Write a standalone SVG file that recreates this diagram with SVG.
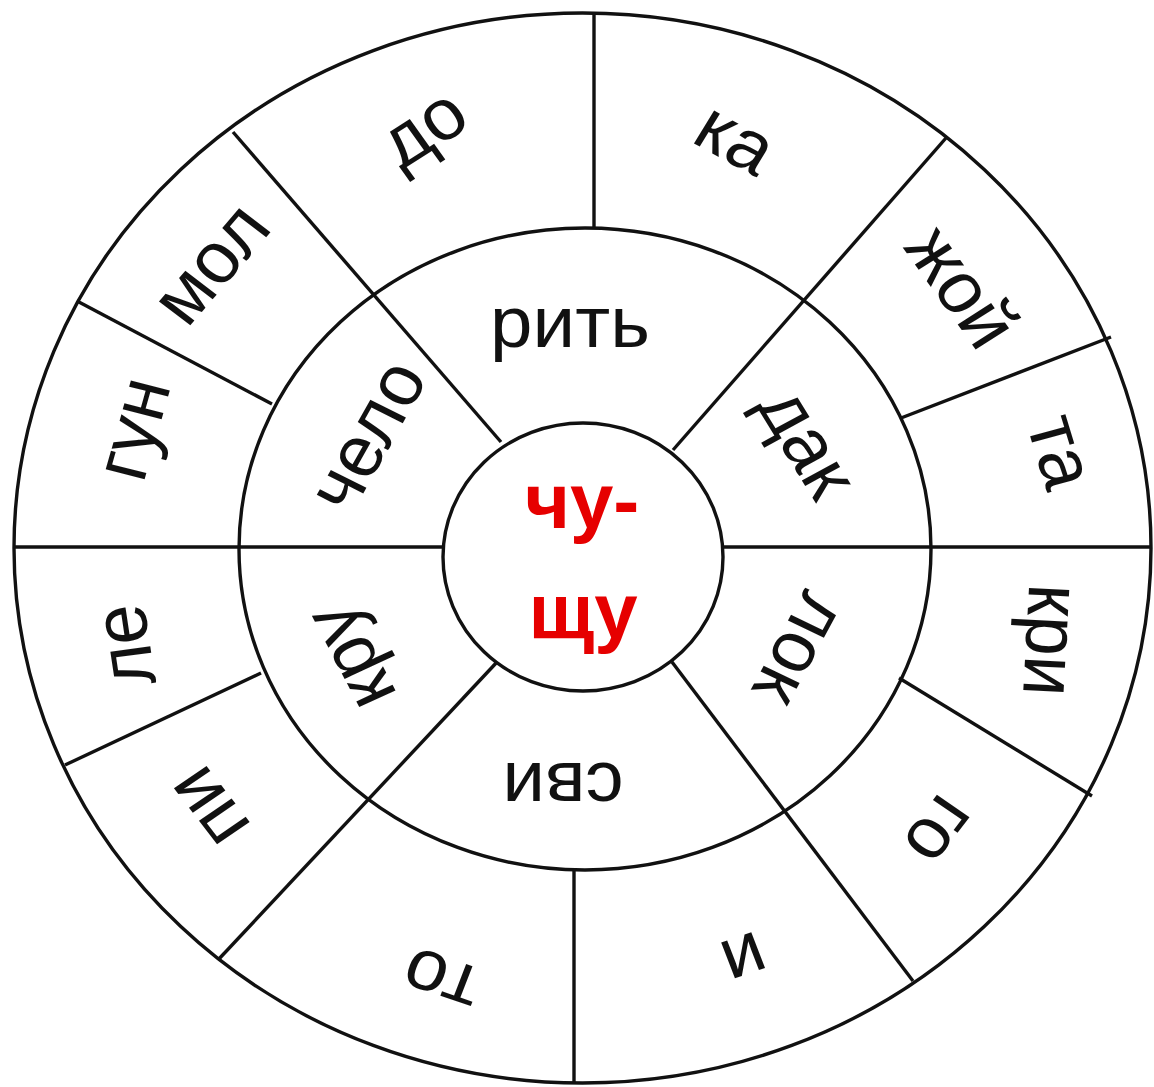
<svg xmlns="http://www.w3.org/2000/svg" width="1154" height="1087" viewBox="0 0 1154 1087">
<style>
.ring{fill:none;stroke:#111;stroke-width:3.4}
.div{stroke:#111;stroke-width:3.4;stroke-linecap:butt}
.lbl{font-family:"Liberation Sans",Arial,sans-serif;font-size:72px;fill:#111;text-anchor:middle}
.ctr{font-family:"Liberation Sans",Arial,sans-serif;font-size:78px;font-weight:bold;fill:#e60000;text-anchor:middle}
</style>
<rect width="1154" height="1087" fill="#fff"/>
<g id="rings">
<ellipse id="outer-ring" class="ring" cx="582.5" cy="548" rx="568.5" ry="535"/>
<ellipse id="middle-ring" class="ring" cx="585" cy="549" rx="346" ry="321"/>
<ellipse id="inner-ring" class="ring" cx="583" cy="557" rx="140" ry="134"/>
</g>
<g id="connectors">
<line class="div" x1="594" y1="13" x2="594" y2="228"/>
<line class="div" x1="233" y1="132" x2="501" y2="442"/>
<line class="div" x1="77" y1="301" x2="272" y2="404"/>
<line class="div" x1="14" y1="547" x2="443" y2="547"/>
<line class="div" x1="723" y1="547" x2="1151" y2="547"/>
<line class="div" x1="946" y1="138" x2="673" y2="450"/>
<line class="div" x1="1111" y1="337" x2="901" y2="418"/>
<line class="div" x1="899" y1="678" x2="1092" y2="796"/>
<line class="div" x1="672" y1="662" x2="913" y2="981"/>
<line class="div" x1="574" y1="870" x2="574" y2="1083"/>
<line class="div" x1="497" y1="662" x2="218" y2="960"/>
<line class="div" x1="65" y1="765" x2="261" y2="673"/>
</g>
<g id="center"><text class="ctr" x="582" y="528">чу-</text><text class="ctr" x="583" y="638">щу</text></g>
<g id="middle-labels">
<g id="m-rit"><text class="lbl" dy="0.26em" transform="translate(570,328) scale(1.06,1) rotate(0)">рить</text></g>
<g id="m-dak"><text class="lbl" dy="0.26em" transform="translate(803,445) scale(1.06,1) rotate(60)">дак</text></g>
<g id="m-lok"><text class="lbl" dy="0.26em" transform="translate(796,647) scale(1.06,1) rotate(117)">лок</text></g>
<g id="m-svi"><text class="lbl" dy="0.26em" transform="translate(563,782) scale(1.06,1) rotate(180)">сви</text></g>
<g id="m-kru"><text class="lbl" dy="0.26em" transform="translate(355,655) scale(1.06,1) rotate(244)">кру</text></g>
<g id="m-chelo"><text class="lbl" dy="0.26em" transform="translate(372,438) scale(1.06,1) rotate(-62)">чело</text></g>
</g>
<g id="outer-labels">
<g id="o-do"><text class="lbl" dy="0.26em" transform="translate(426,132) scale(1.06,1) rotate(-34)">до</text></g>
<g id="o-ka"><text class="lbl" dy="0.26em" transform="translate(733,143) scale(1.06,1) rotate(30)">ка</text></g>
<g id="o-zhoy"><text class="lbl" dy="0.26em" transform="translate(957,290) scale(1.06,1) rotate(56)">жой</text></g>
<g id="o-ta"><text class="lbl" dy="0.26em" transform="translate(1056,453) scale(1.06,1) rotate(74)">та</text></g>
<g id="o-kri"><text class="lbl" dy="0.26em" transform="translate(1046,640) scale(1.06,1) rotate(93)">кри</text></g>
<g id="o-go"><text class="lbl" dy="0.26em" transform="translate(936,828) scale(1.06,1) rotate(126)">го</text></g>
<g id="o-i"><text class="lbl" dy="0.26em" transform="translate(743,955) scale(1.06,1) rotate(160)">и</text></g>
<g id="o-to"><text class="lbl" dy="0.26em" transform="translate(443,976) scale(1.06,1) rotate(200)">то</text></g>
<g id="o-pi"><text class="lbl" dy="0.26em" transform="translate(212,805) scale(1.06,1) rotate(234)">пи</text></g>
<g id="o-le"><text class="lbl" dy="0.26em" transform="translate(130,645) scale(1.06,1) rotate(262)">ле</text></g>
<g id="o-gun"><text class="lbl" dy="0.26em" transform="translate(138,430) scale(1.06,1) rotate(285)">гун</text></g>
<g id="o-mol"><text class="lbl" dy="0.26em" transform="translate(215,267) scale(1.06,1) rotate(-51)">мол</text></g>
</g>
</svg>
